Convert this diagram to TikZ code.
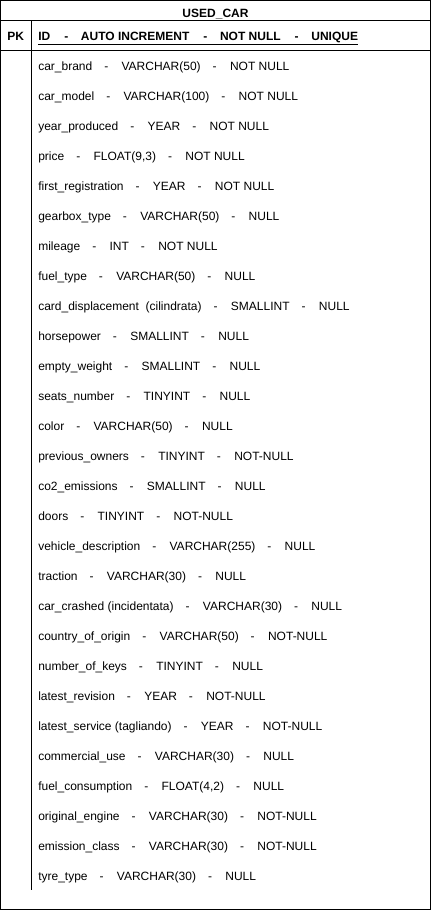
\documentclass[tikz,border=0pt]{standalone}
\usepackage{fontspec}
\setmainfont{Liberation Sans}
\usetikzlibrary{positioning}
\newcommand{\sep}{\hspace{9pt}-\hspace{10pt}}
\newcommand{\idsep}{\hspace{10.5pt}-\hspace{9.5pt}}
\tikzset{
  field/.style={anchor=base west, inner sep=0pt, font=\fontsize{9pt}{11pt}\selectfont},
  keyfield/.style={field, font=\fontsize{9pt}{11pt}\selectfont\bfseries},
  frame/.style={line width=0.75pt},
}
\begin{document}
\begin{tikzpicture}[x=0.75pt, y=-0.75pt]
            \useasboundingbox (0,0) rectangle (431,911);
            % table frame
            \draw[frame] (0.5,0.5) rectangle (430.5,909.5);
            \draw[frame] (0.5,20.5) -- (430.5,20.5);
            \draw[frame] (0.5,50.5) -- (430.5,50.5);
            \draw[frame] (31.5,20.5) -- (31.5,890);
            % header
            \node(title) [keyfield, anchor=base] at (215.5,17.5) {USED\_CAR};
            \node(pk) [keyfield] at (7,40) {PK};
            \node(f0) [keyfield] at (38,40) {\underline{ID\idsep AUTO INCREMENT\idsep NOT NULL\idsep UNIQUE}};
            % fields
            \foreach \txt [count=\i, evaluate=\i as \j using int(\i-1)] in {
              {car\_brand\sep VARCHAR(50)\sep NOT NULL},
              {car\_model\sep VARCHAR(100)\sep NOT NULL},
              {year\_produced\sep YEAR\sep NOT NULL},
              {price\sep FLOAT(9,3)\sep NOT NULL},
              {first\_registration\sep YEAR\sep NOT NULL},
              {gearbox\_type\sep VARCHAR(50)\sep NULL},
              {mileage\sep INT\sep NOT NULL},
              {fuel\_type\sep VARCHAR(50)\sep NULL},
              {card\_displacement\ \ (cilindrata)\sep SMALLINT\sep NULL},
              {horsepower\sep SMALLINT\sep NULL},
              {empty\_weight\sep SMALLINT\sep NULL},
              {seats\_number\sep TINYINT\sep NULL},
              {color\sep VARCHAR(50)\sep NULL},
              {previous\_owners\sep TINYINT\sep NOT-NULL},
              {co2\_emissions\sep SMALLINT\sep NULL},
              {doors\sep TINYINT\sep NOT-NULL},
              {vehicle\_description\sep VARCHAR(255)\sep NULL},
              {traction\sep VARCHAR(30)\sep NULL},
              {car\_crashed (incidentata)\sep VARCHAR(30)\sep NULL},
              {country\_of\_origin\sep VARCHAR(50)\sep NOT-NULL},
              {number\_of\_keys\sep TINYINT\sep NULL},
              {latest\_revision\sep YEAR\sep NOT-NULL},
              {latest\_service (tagliando)\sep YEAR\sep NOT-NULL},
              {commercial\_use\sep VARCHAR(30)\sep NULL},
              {fuel\_consumption\sep FLOAT(4,2)\sep NULL},
              {original\_engine\sep VARCHAR(30)\sep NOT-NULL},
              {emission\_class\sep VARCHAR(30)\sep NOT-NULL},
              {tyre\_type\sep VARCHAR(30)\sep NULL}}
              \node(f\i) [below=22.5pt of f\j.base west, field] {\txt};
\end{tikzpicture}
\end{document}
